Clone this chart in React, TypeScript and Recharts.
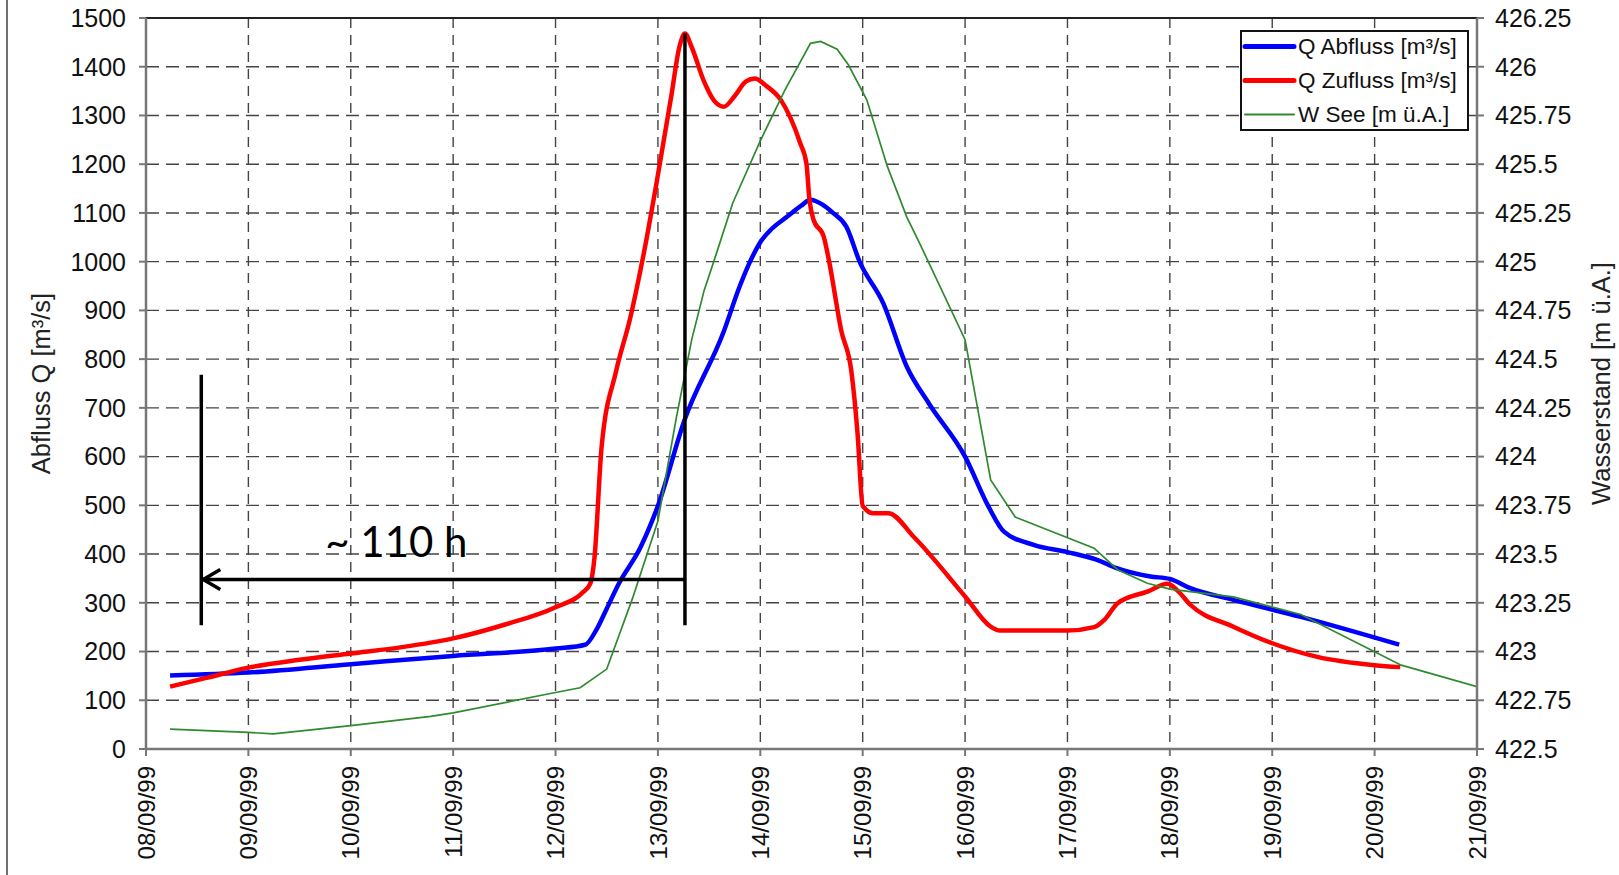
import React from 'react';
import { LineChart, Line, XAxis, YAxis, CartesianGrid, ReferenceLine, ReferenceDot, Legend } from 'recharts';

// ---------- axis labels / ticks ----------
const dateLabels = ['08/09/99', '09/09/99', '10/09/99', '11/09/99', '12/09/99', '13/09/99', '14/09/99', '15/09/99', '16/09/99', '17/09/99', '18/09/99', '19/09/99', '20/09/99', '21/09/99'];
const dayTicks = [0, 1, 2, 3, 4, 5, 6, 7, 8, 9, 10, 11, 12, 13];
const qTicks = [0, 100, 200, 300, 400, 500, 600, 700, 800, 900, 1000, 1100, 1200, 1300, 1400, 1500];
const wTicks = [422.5, 422.75, 423, 423.25, 423.5, 423.75, 424, 424.25, 424.5, 424.75, 425, 425.25, 425.5, 425.75, 426, 426.25];

// ---------- series (x = days since 08/09/99 00:00) ----------
const abflussDays = [0.235, 1.0, 2.0, 3.0, 4.0, 4.29, 4.4, 4.5, 4.62, 4.83, 5.0, 5.26, 5.64, 5.8, 5.9, 6.0, 6.1, 6.26, 6.4, 6.49, 6.6, 6.71, 6.84, 6.97, 7.2, 7.43, 7.65, 8.0, 8.23, 8.38, 8.67, 9.0, 9.29, 9.48, 9.81, 10.0, 10.2, 10.62, 11.28, 12.24];
const abflussQ = [151, 157, 174, 191, 206, 214, 245, 288, 340, 414, 499, 675, 855, 950, 1000, 1040, 1065, 1092, 1115, 1127, 1118, 1100, 1072, 1000, 915, 785, 708, 600, 497, 446, 419, 404, 388, 371, 354, 349, 330, 306, 271, 214];

const zuflussDays = [0.235, 0.59, 1.0, 1.5, 2.0, 2.5, 3.0, 3.5, 4.0, 4.27, 4.34, 4.38, 4.45, 4.59, 4.73, 4.86, 5.0, 5.13, 5.21, 5.264, 5.33, 5.45, 5.55, 5.645, 5.75, 5.86, 5.948, 6.05, 6.2, 6.39, 6.45, 6.48, 6.52, 6.62, 6.67, 6.79, 6.89, 6.95, 7.0, 7.1, 7.25, 7.5, 8.0, 8.25, 8.34, 9.0, 9.26, 9.36, 9.49, 9.78, 9.98, 10.07, 10.2, 10.62, 11.0, 11.44, 12.0, 12.25];
const zuflussQ = [128, 146, 167, 183, 196, 209, 227, 255, 291, 322, 340, 392, 620, 774, 885, 1015, 1178, 1339, 1441, 1468, 1440, 1370, 1330, 1318, 1340, 1370, 1376, 1362, 1332, 1243, 1202, 1127, 1086, 1051, 1003, 859, 774, 647, 499, 484, 484, 435, 313, 251, 243, 243, 250, 265, 299, 323, 339, 326, 296, 251, 217, 189, 172, 168];

const seeDays = [0.235, 1.0, 1.245, 2.0, 2.78, 3.0, 4.0, 4.24, 4.5, 4.75, 5.0, 5.18, 5.33, 5.45, 5.57, 5.73, 6.0, 6.24, 6.49, 6.59, 6.75, 6.86, 7.04, 7.24, 7.43, 7.56, 8.0, 8.25, 8.49, 9.26, 9.49, 9.78, 10.0, 10.62, 11.28, 12.26, 13.0];
const seeW = [422.602, 422.585, 422.578, 422.62, 422.667, 422.685, 422.79, 422.814, 422.91, 423.27, 423.67, 424.2, 424.6, 424.85, 425.04, 425.3, 425.62, 425.88, 426.12, 426.13, 426.09, 426.01, 425.83, 425.49, 425.23, 425.09, 424.6, 423.88, 423.69, 423.53, 423.42, 423.35, 423.32, 423.28, 423.19, 422.93, 422.82];

const seriesNames = ['Q Abfluss [m³/s]', 'Q Zufluss [m³/s]', 'W See [m ü.A.]'];

// ---------- annotation (lead time) ----------
const leadStartDay = 0.54;
const leadEndDay = 5.264;
const arrowQ = 348;
const barLowQ = 254;
const leftBarTopQ = 768;
const rightBarTopQ = 1468;
const leadLabel = '~ 110 h';
const leadLabelDay = 1.75;
const leadLabelQ = 394;

const toPoints = (xs: number[], vs: number[]) => xs.map((x, i) => ({ x, v: vs[i] }));
const abflussData = toPoints(abflussDays, abflussQ);
const zuflussData = toPoints(zuflussDays, zuflussQ);
const seeData = toPoints(seeDays, seeW);

const FONT = 'Liberation Sans, Arial, Helvetica, sans-serif';
const COLORS = ['#0000ff', '#ff0000', '#2f8a2f'];
const WIDTHS = [4.5, 4.5, 1.7];

const DateTick = (props: any) => {
  const { x, y, payload } = props;
  return (
    <text
      x={x}
      y={y}
      transform={`rotate(-90, ${x}, ${y})`}
      textAnchor="end"
      dy="0.36em"
      fontSize={24}
      fontFamily={FONT}
      fill="#111"
    >
      {dateLabels[payload.value]}
    </text>
  );
};

const LeftTitle = (props: any) => {
  const vb = props.viewBox || { x: 0, y: 18, width: 146, height: 731 };
  const cx = vb.x + 41;
  const cy = vb.y + vb.height / 2;
  return (
    <text x={cx} y={cy} transform={`rotate(-90, ${cx}, ${cy})`} textAnchor="middle" dominantBaseline="central" fontSize={25.5} fontFamily={FONT} fill="#222">
      Abfluss Q [m³/s]
    </text>
  );
};

const RightTitle = (props: any) => {
  const vb = props.viewBox || { x: 1477, y: 18, width: 142, height: 731 };
  const cx = vb.x + 124;
  const cy = vb.y + vb.height / 2;
  return (
    <text x={cx} y={cy} transform={`rotate(-90, ${cx}, ${cy})`} textAnchor="middle" dominantBaseline="central" fontSize={25.5} fontFamily={FONT} fill="#222">
      Wasserstand [m ü.A.]
    </text>
  );
};

const renderLegend = () => (
  <svg width={229} height={101} style={{ display: 'block' }}>
    <rect x={1} y={1} width={227} height={99} fill="#fff" stroke="#111" strokeWidth={2} />
    {seriesNames.map((name, i) => {
      const cy = 16.5 + i * 34;
      return (
        <g key={name}>
          <line x1={5} y1={cy} x2={54} y2={cy} stroke={COLORS[i]} strokeWidth={i < 2 ? 5 : 2} strokeLinecap="round" />
          <text x={58} y={cy} dominantBaseline="central" fontSize={22.5} fontFamily={FONT} fill="#111">
            {name}
          </text>
        </g>
      );
    })}
  </svg>
);

const ArrowShape = (props: any) => {
  const { x1, y1, x2, y2 } = props;
  return (
    <g>
      <line x1={x1} y1={y1} x2={x2} y2={y2} stroke="#000" strokeWidth={3.5} />
      <polyline points={`${x1 + 19},${y1 - 10} ${x1 + 2},${y1} ${x1 + 19},${y1 + 10}`} fill="none" stroke="#000" strokeWidth={3.5} />
    </g>
  );
};

const LeadText = (props: any) => {
  const { cx, cy } = props;
  return (
    <text x={cx} y={cy} fontSize={42} fontFamily="Lato, 'Open Sans', sans-serif" fill="#000">
      {leadLabel}
    </text>
  );
};

export default function App() {
  return (
    <div style={{ position: 'absolute', left: 0, top: 0, width: 1619, height: 875, background: '#fff', overflow: 'hidden' }}>
      <div style={{ position: 'absolute', left: 6, top: 0, width: 2, height: 875, background: '#707070' }} />
      <LineChart width={1619} height={875} margin={{ top: 18, right: 0, bottom: 0, left: 0 }}>
        <CartesianGrid yAxisId="left" vertical={false} stroke="#444" strokeWidth={1.4} strokeDasharray="13 7" />
        <CartesianGrid yAxisId="left" horizontal={false} stroke="#444" strokeWidth={1.4} strokeDasharray="10 7" />
        <XAxis
          type="number"
          dataKey="x"
          domain={[0, 13]}
          ticks={dayTicks}
          interval={0}
          height={126}
          tick={<DateTick />}
          tickSize={7}
          tickMargin={10}
          axisLine={{ stroke: '#777', strokeWidth: 2.5 }}
          tickLine={{ stroke: '#777', strokeWidth: 2 }}
          allowDataOverflow
        />
        <YAxis
          yAxisId="left"
          orientation="left"
          domain={[0, 1500]}
          ticks={qTicks}
          interval={0}
          width={146}
          tickSize={7}
          tickMargin={13}
          tick={{ fontSize: 25, fontFamily: FONT, fill: '#111' }}
          axisLine={{ stroke: '#777', strokeWidth: 2.5 }}
          tickLine={{ stroke: '#777', strokeWidth: 2 }}
          label={<LeftTitle />}
          allowDataOverflow
        />
        <YAxis
          yAxisId="right"
          orientation="right"
          domain={[422.5, 426.25]}
          ticks={wTicks}
          interval={0}
          width={142}
          tickSize={7}
          tickMargin={11}
          tickFormatter={(v: number) => String(v)}
          tick={{ fontSize: 25, fontFamily: FONT, fill: '#111' }}
          axisLine={{ stroke: '#777', strokeWidth: 2.5 }}
          tickLine={{ stroke: '#777', strokeWidth: 2 }}
          label={<RightTitle />}
          allowDataOverflow
        />
        <ReferenceLine yAxisId="left" y={1500} stroke="#222" strokeWidth={2} />
        <Line yAxisId="left" data={abflussData} dataKey="v" name={seriesNames[0]} type="monotone" stroke={COLORS[0]} strokeWidth={WIDTHS[0]} dot={false} activeDot={false} isAnimationActive={false} />
        <Line yAxisId="left" data={zuflussData} dataKey="v" name={seriesNames[1]} type="monotone" stroke={COLORS[1]} strokeWidth={WIDTHS[1]} dot={false} activeDot={false} isAnimationActive={false} />
        <Line yAxisId="right" data={seeData} dataKey="v" name={seriesNames[2]} type="linear" stroke={COLORS[2]} strokeWidth={WIDTHS[2]} dot={false} activeDot={false} isAnimationActive={false} />
        <ReferenceLine yAxisId="left" segment={[{ x: leadStartDay, y: barLowQ }, { x: leadStartDay, y: leftBarTopQ }]} stroke="#000" strokeWidth={3.5} />
        <ReferenceLine yAxisId="left" segment={[{ x: leadEndDay, y: barLowQ }, { x: leadEndDay, y: rightBarTopQ }]} stroke="#000" strokeWidth={3.5} />
        <ReferenceLine yAxisId="left" segment={[{ x: leadStartDay, y: arrowQ }, { x: leadEndDay, y: arrowQ }]} shape={(p: any) => <ArrowShape {...p} />} />
        <ReferenceDot yAxisId="left" x={leadLabelDay} y={leadLabelQ} r={0} shape={(p: any) => <LeadText {...p} />} />
        <Legend
          layout="vertical"
          align="center"
          verticalAlign="middle"
          content={renderLegend}
          wrapperStyle={{ position: 'absolute', left: 1240, top: 30, width: 229, height: 101 }}
        />
      </LineChart>
    </div>
  );
}
